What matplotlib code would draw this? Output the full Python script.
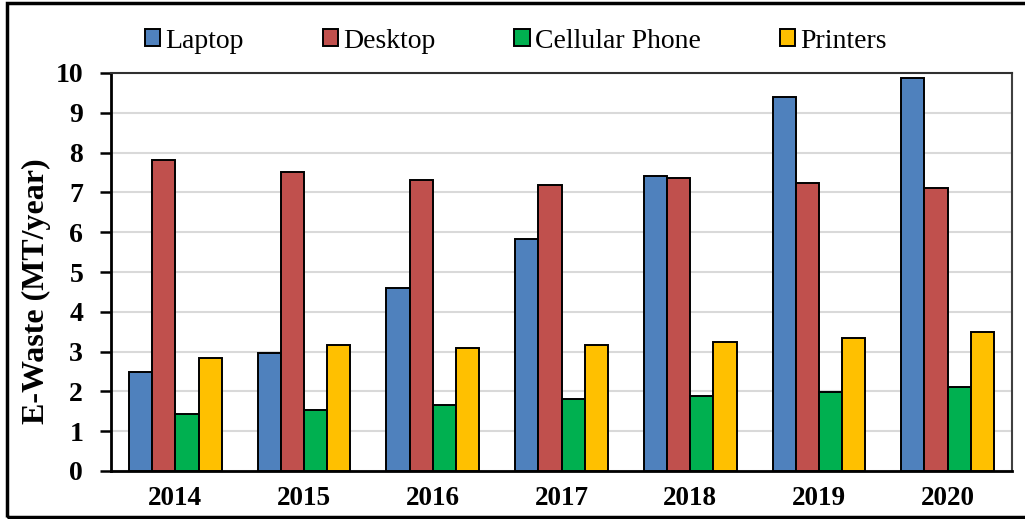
import matplotlib
matplotlib.use("Agg")
import matplotlib.pyplot as plt
import numpy as np
from matplotlib.patches import Patch, Rectangle

years = ["2014", "2015", "2016", "2017", "2018", "2019", "2020"]
laptop = [2.48, 2.96, 4.60, 5.83, 7.41, 9.40, 9.88]
desktop = [7.81, 7.52, 7.31, 7.19, 7.36, 7.23, 7.10]
cellular = [1.43, 1.53, 1.66, 1.81, 1.88, 1.99, 2.11]
printers = [2.85, 3.16, 3.08, 3.17, 3.25, 3.33, 3.48]

series_names = ["Laptop", "Desktop", "Cellular Phone", "Printers"]
colors = ["#4F81BD", "#C0504D", "#00B050", "#FFC000"]

plt.rcParams['font.family'] = ['Liberation Serif', 'DejaVu Serif']

fig = plt.figure(figsize=(10.25, 5.19), dpi=100)
ax = fig.add_axes([111/1025, 1-471/519, (1012-111)/1025, (471-73)/519])

x = np.arange(len(years))
w = 0.18
data = [laptop, desktop, cellular, printers]
for i, (vals, c, name) in enumerate(zip(data, colors, series_names)):
    ax.bar(x + (i - 1.5) * w, vals, width=w, color=c, edgecolor="black",
           linewidth=1.4, label=name, zorder=3)

ax.set_xlim(-0.5, len(years) - 0.5)
ax.set_ylim(0, 10)
ax.set_yticks(range(0, 11))
ax.set_xticks(x)
ax.set_xticklabels(years, fontsize=19.5, fontweight="bold")
ax.tick_params(axis="x", length=0, pad=11)
ax.tick_params(axis="y", length=8, width=1.8, pad=12, labelsize=20, direction="out")
for lbl in ax.get_yticklabels():
    lbl.set_fontweight("bold")

ax.yaxis.grid(True, color="#d9d9d9", linewidth=1.5, zorder=0)
ax.set_axisbelow(True)

ax.spines["left"].set_linewidth(2)
ax.spines["left"].set_color("black")
ax.spines["bottom"].set_linewidth(2)
ax.spines["bottom"].set_color("black")
ax.spines["top"].set_linewidth(1.5)
ax.spines["top"].set_color("#303030")
ax.spines["right"].set_linewidth(1.5)
ax.spines["right"].set_color("#404040")

ax.set_ylabel("E-Waste (MT/year)", fontsize=23, fontweight="bold")
ax.yaxis.set_label_coords(-0.0666, 0.452)

handles = [Patch(facecolor=c, edgecolor="black", linewidth=1.4) for c in colors]
fig.legend(handles, series_names, loc="center", bbox_to_anchor=(0.503, 1 - 41/519),
           ncol=4, frameon=False, fontsize=20, handlelength=0.55, handleheight=0.55,
           handletextpad=0.18, columnspacing=2.85)

# outer border
fig.patches.append(Rectangle((7/1025, 2/519), 1.2, 1 - 5/519, transform=fig.transFigure,
                             fill=False, edgecolor="black", linewidth=2.5, clip_on=False))

fig.savefig("out.png", dpi=100)
